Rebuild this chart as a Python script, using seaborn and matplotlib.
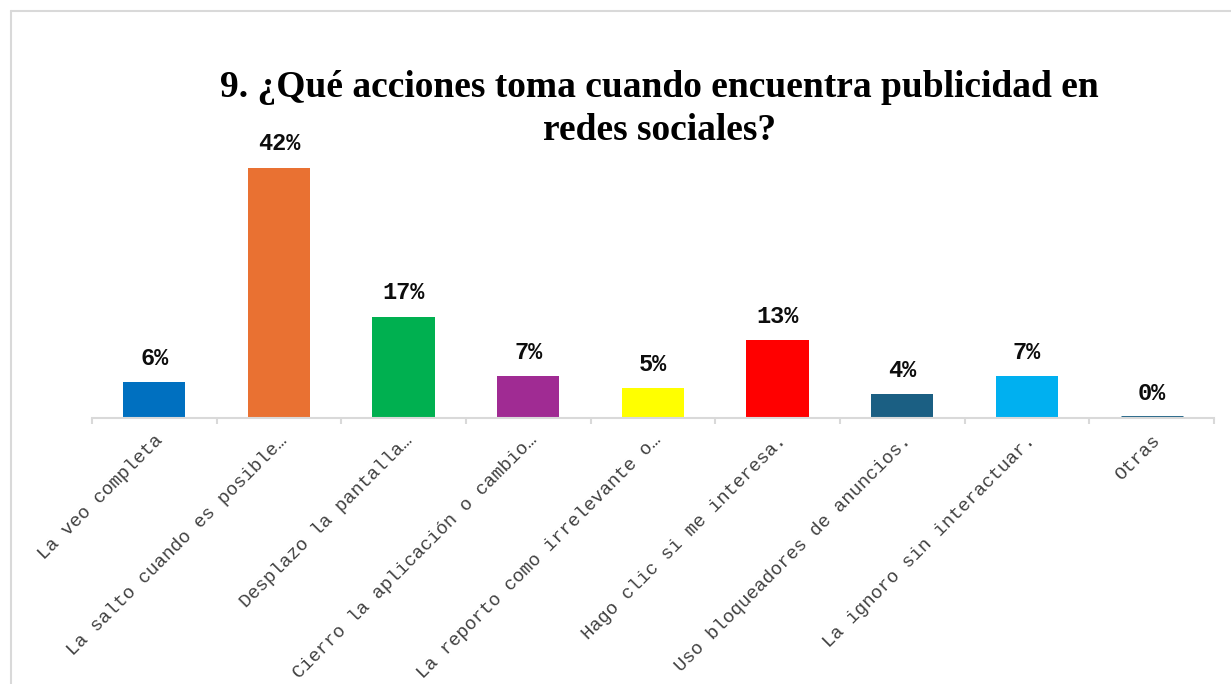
import matplotlib
matplotlib.use("Agg")
import matplotlib.pyplot as plt
import seaborn as sns
import pandas as pd
from matplotlib.lines import Line2D

# Survey answers and their share of responses
acciones = [
    "La veo completa",
    "La salto cuando es posible…",
    "Desplazo la pantalla…",
    "Cierro la aplicación o cambio…",
    "La reporto como irrelevante o…",
    "Hago clic si me interesa.",
    "Uso bloqueadores de anuncios.",
    "La ignoro sin interactuar.",
    "Otras",
]
porcentajes = [6, 42, 17, 7, 5, 13, 4, 7, 0]
colores = ["#0070C0", "#E97132", "#00B050", "#A02B93", "#FFFF00",
           "#FF0000", "#1B5F83", "#00B0F0", "#1B5F83"]
titulo = ["9. ¿Qué acciones toma cuando encuentra publicidad en",
          "redes sociales?"]

df = pd.DataFrame({"accion": acciones, "pct": porcentajes})

sns.set_theme(style="white")
plt.rcParams["font.family"] = ["Liberation Mono", "DejaVu Sans Mono"]

fig = plt.figure(figsize=(12.31, 6.84), dpi=100)
ax = fig.add_axes([0.0747, 0.389, 0.9115, 0.392])

sns.barplot(data=df, x="accion", y="pct", hue="accion", palette=colores,
            legend=False, width=0.5, saturation=1, ax=ax)

# give the empty category a visible hairline at the baseline
for patch, v, c in zip(ax.patches, porcentajes, colores):
    if v == 0:
        patch.set_edgecolor(c)
        patch.set_linewidth(3.5)
    else:
        patch.set_linewidth(0)

for i, v in enumerate(porcentajes):
    ax.annotate(f"{v}%", (i, v), xytext=(0, 9), textcoords="offset points",
                ha="center", va="bottom", fontsize=17, fontweight="bold",
                family=["Liberation Mono", "DejaVu Sans Mono"], color="#0d0d0d")

ax.set_xlim(-0.5, len(acciones) - 0.5)
ax.set_ylim(0, 45)
ax.set_xlabel("")
ax.set_ylabel("")
ax.set_yticks([])

ax.set_xticks(range(len(acciones)))
ax.set_xticklabels(acciones, rotation=45, ha="right", rotation_mode="anchor",
                   fontsize=13.5, color="#404040",
                   family=["Liberation Mono", "DejaVu Sans Mono"])
ax.tick_params(axis="x", which="major", length=0, pad=10)
ax.set_xticks([i - 0.5 for i in range(len(acciones) + 1)], minor=True)
ax.tick_params(axis="x", which="minor", length=4, width=1.5, color="#d9d9d9",
               direction="out", bottom=True)

for side in ["top", "right", "left"]:
    ax.spines[side].set_visible(False)
ax.spines["bottom"].set_color("#d9d9d9")
ax.spines["bottom"].set_linewidth(1.5)

# two-line title, each line placed on its own baseline
for linea, y_base in zip(titulo, [1 - 97 / 684, 1 - 140 / 684]):
    fig.text(0.536, y_base, linea, ha="center", va="baseline", fontsize=27,
             fontweight="bold", family=["Liberation Serif", "DejaVu Serif"],
             color="black")

# chart area frame
fig.add_artist(Line2D([11 / 1231, 11 / 1231], [1 - 11 / 684, 0],
                      transform=fig.transFigure, color="#d9d9d9", lw=1.5))
fig.add_artist(Line2D([11 / 1231, 1], [1 - 11 / 684, 1 - 11 / 684],
                      transform=fig.transFigure, color="#d9d9d9", lw=1.5))

fig.savefig("out.png", dpi=100)
